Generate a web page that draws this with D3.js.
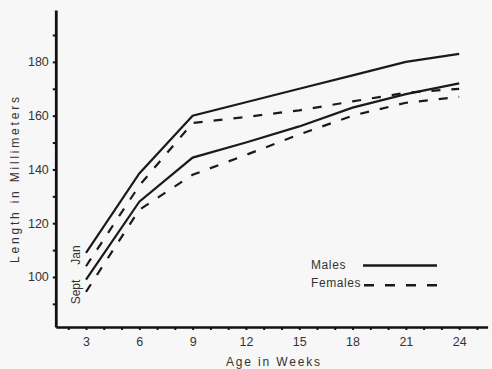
<!DOCTYPE html>
<html>
<head>
<meta charset="utf-8">
<script src="https://cdn.jsdelivr.net/npm/d3@7"></script>
<style>
  body { margin: 0; background: #f7f7f7; }
  svg { display: block; }
  .axis path, .axis line { stroke: #111; }
  .axis text { font-family: "Liberation Sans", sans-serif; font-size: 12.5px; fill: #333; }
  .lbl { font-family: "Liberation Sans", sans-serif; fill: #333; }
</style>
</head>
<body>
<div id="chart"></div>
<script>
// age in weeks
const weeks = [3, 6, 9, 12, 15, 18, 21, 24]
// length in millimeters
const malesJan = [109, 138.5, 160, 165, 170, 175, 180, 183]
const femalesJan = [104, 134, 157.3, 159.5, 162, 165.3, 168.5, 170]
const malesSept = [99, 128, 144.4, 150, 156, 163, 168, 172]
const femalesSept = [94.5, 125, 138, 145.4, 153, 160, 164.8, 167]

const xTicks = d3.range(2, 26)
const yTicks = d3.range(90, 200, 10)

const width = 492, height = 369

const svg = d3.select("#chart")
    .append("svg")
    .attr("width", width)
    .attr("height", height)

const x = d3.scaleLinear().domain([1.3, 25.6]).range([55.8, 487.6])
const y = d3.scaleLinear().domain([81.4, 199.3]).range([327, 10])

// x axis
const xAxis = d3.axisBottom(x)
    .tickValues(xTicks)
    .tickSize(3)
    .tickSizeOuter(0)
    .tickPadding(7)
    .tickFormat(d => d % 3 === 0 ? d : "")

svg.append("g")
    .attr("class", "axis x-axis")
    .attr("transform", `translate(0,${y(81.4)})`)
    .call(xAxis)
    .call(g => g.select(".domain").attr("stroke-width", 2.6))
    .call(g => g.selectAll(".tick line").attr("stroke-width", 2))

// y axis
const yAxis = d3.axisLeft(y)
    .tickValues(yTicks)
    .tickSize(3)
    .tickSizeOuter(0)
    .tickPadding(4)
    .tickFormat(d => d % 20 === 0 ? d : "")

svg.append("g")
    .attr("class", "axis y-axis")
    .attr("transform", `translate(${x(1.3)},0)`)
    .call(yAxis)
    .call(g => g.select(".domain").attr("stroke-width", 2.8))
    .call(g => g.selectAll(".tick line").attr("stroke-width", 2))

// axis titles
svg.append("text")
    .attr("class", "lbl")
    .attr("x", 273)
    .attr("y", 366)
    .attr("text-anchor", "middle")
    .attr("font-size", 12)
    .attr("textLength", 94)
    .attr("lengthAdjust", "spacing")
    .text("Age in Weeks")

svg.append("text")
    .attr("class", "lbl")
    .attr("transform", "translate(19,180) rotate(-90)")
    .attr("text-anchor", "middle")
    .attr("font-size", 12)
    .attr("textLength", 166)
    .attr("lengthAdjust", "spacing")
    .text("Length in Millimeters")

// lines
const line = d3.line()
    .x((d, i) => x(weeks[i]))
    .y(d => y(d))

const series = [
    { values: malesJan, dash: null },
    { values: femalesJan, dash: "9,11" },
    { values: malesSept, dash: null },
    { values: femalesSept, dash: "9,11" }
]

svg.selectAll(".series")
    .data(series)
    .join("path")
    .attr("class", "series")
    .attr("d", d => line(d.values))
    .attr("fill", "none")
    .attr("stroke", "#1a1a1a")
    .attr("stroke-width", 2.2)
    .attr("stroke-dasharray", d => d.dash)

// month labels at the start of the lines
svg.append("text")
    .attr("class", "lbl")
    .attr("transform", "translate(80,255) rotate(-90)")
    .attr("text-anchor", "middle")
    .attr("font-size", 12)
    .text("Jan")

svg.append("text")
    .attr("class", "lbl")
    .attr("transform", "translate(80,292) rotate(-90)")
    .attr("text-anchor", "middle")
    .attr("font-size", 12)
    .text("Sept")

// legend
const legend = [
    { name: "Males", dash: null, ty: 269, ly: 265.5, x0: 363 },
    { name: "Females", dash: "10,11", ty: 287, ly: 285.3, x0: 364 }
]

const lg = svg.selectAll(".legend")
    .data(legend)
    .join("g")
    .attr("class", "legend")

lg.append("text")
    .attr("class", "lbl")
    .attr("x", 311)
    .attr("y", d => d.ty)
    .attr("font-size", 12)
    .attr("letter-spacing", 0.6)
    .text(d => d.name)

lg.append("line")
    .attr("x1", d => d.x0)
    .attr("x2", 437)
    .attr("y1", d => d.ly)
    .attr("y2", d => d.ly)
    .attr("stroke", "#1a1a1a")
    .attr("stroke-width", 2.4)
    .attr("stroke-dasharray", d => d.dash)
</script>
</body>
</html>
